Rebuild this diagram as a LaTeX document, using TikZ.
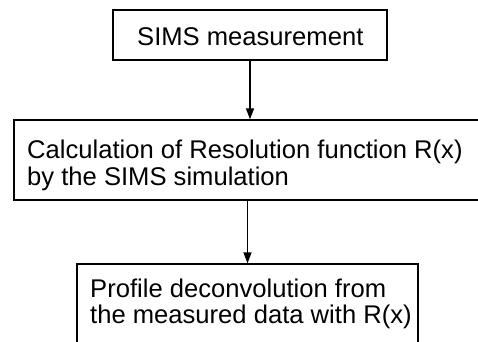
\documentclass[tikz,border=0pt]{standalone}
\usepackage{fontspec}
\setmainfont{Liberation Sans}
\usetikzlibrary{arrows.meta}
\tikzset{
  box/.style={draw, line width=1.3pt, rectangle, inner sep=0pt},
  txt/.style={anchor=base west, inner sep=0pt, font=\fontsize{25.6}{27}\selectfont},
  arr/.style={line width=1.3pt, -{Triangle[length=11pt,width=8pt]}},
}
\begin{document}
\begin{tikzpicture}[x=1pt,y=-1pt]
\useasboundingbox (0,0) rectangle (478,341);
\clip (0,0) rectangle (478,341);
\node[box, minimum width=274pt, minimum height=50pt] (b1) at (250,35) {};
\node[box, minimum width=476pt, minimum height=80pt] (b2) at (252,160) {};
\node[box, minimum width=341pt, minimum height=110pt] (b3) at (247.5,319) {};
\node[txt] (t1) at (137,45) {SIMS measurement};
\node[txt] (t2a) at (27,158) {Calculation of Resolution function R(x)};
\node[txt] (t2b) at (27,185) {by the SIMS simulation};
\node[txt] (t3a) at (90,297) {Profile deconvolution from};
\node[txt] (t3b) at (90,323) {the measured data with R(x)};
\draw[arr] (b1.south) -- (b1.south |- b2.north);
\draw[arr] (b3.north |- b2.south) -- (b3.north);
\end{tikzpicture}
\end{document}
